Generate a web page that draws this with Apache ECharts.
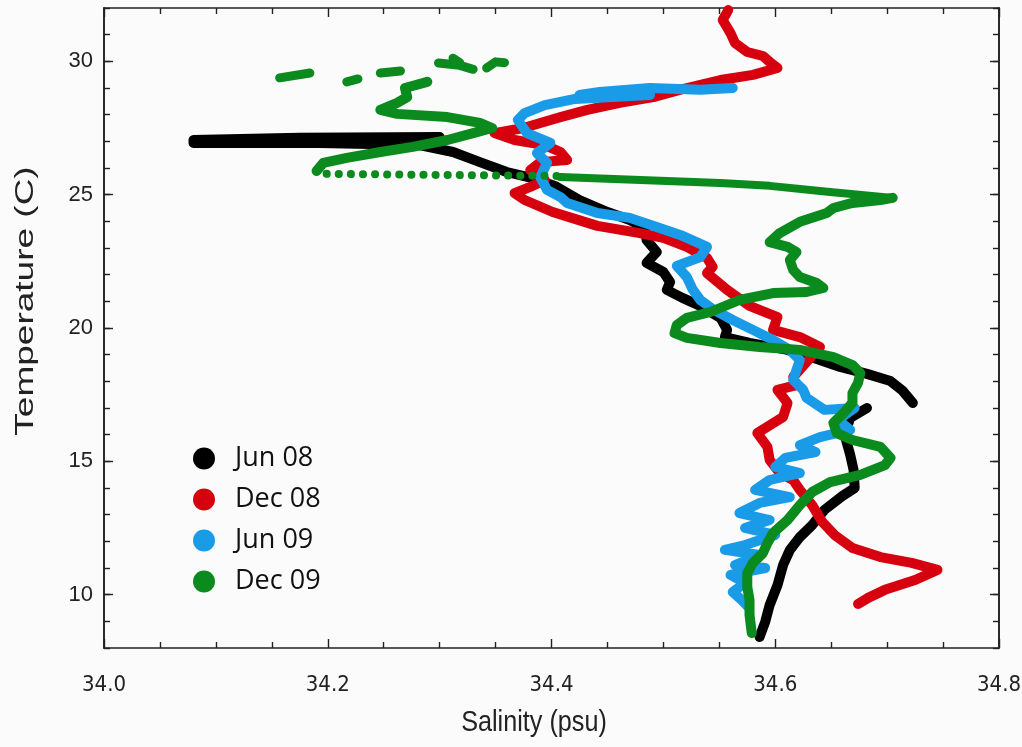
<!DOCTYPE html>
<html>
<head>
<meta charset="utf-8">
<script src="https://cdn.jsdelivr.net/npm/echarts@6/dist/echarts.min.js"></script>
<style>
html,body{margin:0;padding:0;background:#fbfbfb;}
#chart{width:1022px;height:747px;}
</style>
</head>
<body>
<div id="chart"></div>
<script>
// ---- data: [salinity (psu), temperature (C)] ----
var seriesNames = ['Jun 08', 'Dec 08', 'Jun 09', 'Dec 09'];
var seriesColors = ['#000000', '#d7000f', '#1a9be8', '#0b8a1e'];
var xTitle = 'Salinity (psu)';
var yTitle = 'Temperature (C)';

var jun08Upper = [
  [34.300,27.16],[34.175,27.13],[34.080,27.05],[34.080,26.94],[34.193,26.94],[34.282,26.86],
  [34.312,26.60],[34.336,26.22],[34.360,25.85],[34.383,25.62],[34.403,25.33],[34.425,24.80],
  [34.450,24.35],[34.470,24.05],[34.484,23.75],[34.485,23.30],[34.494,22.85],[34.485,22.44],
  [34.500,22.10],[34.506,21.72],[34.503,21.43],[34.517,21.13],[34.533,20.83],[34.551,20.38],
  [34.557,19.93],[34.555,19.66],[34.577,19.44],[34.611,19.18],[34.634,18.88],[34.658,18.54],
  [34.682,18.28],[34.703,18.01],[34.714,17.64],[34.723,17.19]
];
var jun08Lower = [
  [34.682,17.00],[34.667,16.63],[34.662,15.99],[34.667,15.24],[34.670,14.68],[34.671,14.00],
  [34.660,13.70],[34.644,13.18],[34.633,12.61],[34.622,12.16],[34.613,11.67],[34.607,11.11],
  [34.602,10.36],[34.595,9.61],[34.591,8.98],[34.586,8.41]
];

var dec08 = [
  [34.558,31.92],[34.553,31.55],[34.560,31.06],[34.564,30.69],[34.575,30.35],[34.589,30.20],
  [34.595,29.98],[34.602,29.75],[34.580,29.49],[34.551,29.30],[34.521,29.00],[34.491,28.66],
  [34.461,28.44],[34.432,28.18],[34.408,27.91],[34.390,27.69],[34.375,27.50],[34.349,27.31],
  [34.367,27.05],[34.394,26.86],[34.408,26.60],[34.414,26.30],[34.390,26.22],[34.381,25.92],
  [34.394,25.55],[34.381,25.29],[34.367,25.06],[34.376,24.80],[34.401,24.35],[34.441,23.83],
  [34.479,23.56],[34.500,23.38],[34.521,23.04],[34.539,22.63],[34.544,22.29],[34.539,22.06],
  [34.557,21.43],[34.577,20.83],[34.602,20.41],[34.598,19.93],[34.622,19.66],[34.640,19.29],
  [34.628,18.73],[34.616,18.16],[34.619,17.86],[34.602,17.68],[34.611,17.19],[34.607,16.66],
  [34.584,16.06],[34.593,15.54],[34.595,15.05],[34.604,14.56],[34.616,14.30],[34.622,13.93],
  [34.633,13.36],[34.642,12.73],[34.653,12.24],[34.669,11.75],[34.694,11.41],[34.722,11.19],
  [34.745,10.93],[34.725,10.55],[34.698,10.18],[34.683,9.88],[34.674,9.65]
];

var jun09 = [
  [34.562,29.00],[34.533,28.93],[34.488,29.00],[34.443,28.85],[34.425,28.74],[34.443,28.66],
  [34.488,28.74],[34.421,28.59],[34.394,28.36],[34.376,28.06],[34.370,27.80],[34.378,27.31],
  [34.399,26.94],[34.387,26.56],[34.396,26.19],[34.390,25.66],[34.396,25.18],[34.408,24.91],
  [34.414,24.69],[34.441,24.31],[34.470,24.13],[34.494,23.79],[34.515,23.49],[34.539,23.04],
  [34.533,22.66],[34.512,22.33],[34.521,21.91],[34.526,21.46],[34.533,21.05],[34.544,20.71],
  [34.562,20.30],[34.580,19.93],[34.598,19.55],[34.613,19.18],[34.622,18.80],[34.619,18.43],
  [34.616,18.05],[34.625,17.68],[34.628,17.38],[34.644,16.93],[34.671,17.00],[34.656,16.55],
  [34.667,16.18],[34.640,15.91],[34.622,15.61],[34.636,15.35],[34.609,15.13],[34.600,14.79],
  [34.622,14.56],[34.595,14.30],[34.582,13.93],[34.613,13.66],[34.586,13.44],[34.568,13.06],
  [34.595,12.80],[34.573,12.50],[34.600,12.24],[34.573,11.86],[34.555,11.68],[34.586,11.49],
  [34.564,11.11],[34.591,11.00],[34.560,10.74],[34.573,10.44],[34.562,10.10],[34.570,9.80],
  [34.576,9.54]
];

var dec09Bits = [
  [[34.157,29.38],[34.184,29.56]],
  [[34.217,29.23],[34.227,29.34]],
  [[34.247,29.56],[34.265,29.64]],
  [[34.299,29.94],[34.318,29.85],[34.330,29.70]],
  [[34.312,30.12],[34.318,29.95]],
  [[34.342,29.75],[34.350,29.98],[34.358,29.95]]
];
var dec09Upper = [
  [34.289,29.23],[34.269,29.00],[34.271,28.66],[34.262,28.44],[34.247,28.18],[34.262,28.03],
  [34.307,27.91],[34.336,27.69],[34.347,27.50],[34.330,27.31],[34.307,27.05],[34.276,26.79],
  [34.247,26.60],[34.217,26.38],[34.196,26.19],[34.190,25.89]
];
var dec09Dotted = [[34.199,25.78],[34.300,25.74],[34.408,25.70]];
var dec09Thin = [[34.408,25.66],[34.551,25.44],[34.595,25.33],[34.649,25.10],[34.705,24.88]];
var dec09Lower = [
  [34.705,24.88],[34.694,24.80],[34.669,24.69],[34.652,24.50],[34.646,24.31],[34.622,23.98],
  [34.604,23.56],[34.595,23.22],[34.611,23.04],[34.619,22.85],[34.613,22.55],[34.616,22.18],
  [34.622,21.91],[34.637,21.69],[34.643,21.50],[34.628,21.35],[34.598,21.31],[34.568,21.05],
  [34.542,20.60],[34.521,20.38],[34.512,20.11],[34.510,19.81],[34.521,19.63],[34.551,19.44],
  [34.586,19.29],[34.622,19.18],[34.652,18.91],[34.669,18.61],[34.676,18.31],[34.674,17.94],
  [34.669,17.56],[34.669,17.19],[34.661,16.81],[34.652,16.44],[34.655,16.06],[34.669,15.80],
  [34.694,15.54],[34.703,15.13],[34.698,14.86],[34.676,14.49],[34.649,14.22],[34.633,13.85],
  [34.622,13.36],[34.611,12.80],[34.598,12.31],[34.593,11.94],[34.589,11.56],[34.580,11.19],
  [34.575,10.81],[34.575,10.29],[34.577,9.80],[34.577,9.24],[34.579,8.56]
];

var yTicks = [10, 15, 20, 25, 30];

// ---- build ----
function seg(name, color, data, width, dotted) {
  return {
    type: 'line', name: name, data: data, showSymbol: false, symbol: 'circle',
    xAxisIndex: 0, yAxisIndex: 0, silent: true, animation: false,
    lineStyle: {
      color: color, width: width, cap: 'round', join: 'round',
      type: dotted ? [0.1, 12] : 'solid'
    },
    itemStyle: { color: color }
  };
}
var series = [];
series.push(seg(seriesNames[0], seriesColors[0], jun08Upper, 10));
series.push(seg(seriesNames[0], seriesColors[0], jun08Lower, 10));
series.push(seg(seriesNames[1], seriesColors[1], dec08, 10));
series.push(seg(seriesNames[2], seriesColors[2], jun09, 10));
dec09Bits.forEach(function (b) { series.push(seg(seriesNames[3], seriesColors[3], b, 9)); });
series.push(seg(seriesNames[3], seriesColors[3], dec09Upper, 10));
series.push(seg(seriesNames[3], seriesColors[3], dec09Dotted, 8, true));
series.push(seg(seriesNames[3], seriesColors[3], dec09Thin, 8));
series.push(seg(seriesNames[3], seriesColors[3], dec09Lower, 10));

var axisCol = '#222';
function yAx(pos, custom, len, labels) {
  var a = {
    type: 'value', position: pos, min: 8, max: 32, interval: 1,
    splitLine: { show: false },
    axisLine: { show: true, onZero: false, lineStyle: { color: axisCol, width: 1.6 } },
    axisTick: { show: true, inside: true, length: len, lineStyle: { color: axisCol, width: 1.4 } },
    axisLabel: { show: false }
  };
  if (custom) a.axisTick.customValues = yTicks;
  if (labels) {
    a.axisLabel = { show: true, customValues: yTicks, margin: 11, color: '#222',
      fontFamily: 'Liberation Sans, Arial, sans-serif', fontSize: 22 };
  }
  return a;
}
function xAx(pos, labels) {
  var a = {
    type: 'value', position: pos, min: 34, max: 34.8, interval: 0.2,
    splitLine: { show: false },
    axisLine: { show: true, onZero: false, lineStyle: { color: axisCol, width: 1.6 } },
    axisTick: { show: true, inside: true, length: 9, lineStyle: { color: axisCol, width: 1.4 } },
    minorTick: { show: true, splitNumber: 4, length: 6, lineStyle: { color: axisCol, width: 1.4 } },
    axisLabel: { show: false }
  };
  if (labels) {
    a.axisLabel = { show: true, margin: 26, color: '#222',
      fontFamily: 'Liberation Sans Narrow, DejaVu Sans Condensed, Arial, sans-serif', fontSize: 22,
      formatter: function (v) { return v.toFixed(1); } };
  }
  return a;
}

var chart = echarts.init(document.getElementById('chart'), null, { renderer: 'canvas' });
chart.setOption({
  backgroundColor: '#fbfbfb',
  animation: false,
  grid: { left: 104, right: 23, top: 8, bottom: 99, containLabel: false, outerBoundsMode: 'none' },
  xAxis: [xAx('bottom', true), xAx('top', false)],
  yAxis: [yAx('left', false, 6, true), yAx('left', true, 9, false), yAx('right', false, 6, false), yAx('right', true, 9, false)],
  legend: {
    data: seriesNames,
    orient: 'vertical', left: 193, top: 445, padding: 0,
    icon: 'circle', itemWidth: 22, itemHeight: 22, itemGap: 14, itemTextGap: 5,
    textStyle: { fontFamily: 'Open Sans, Noto Sans, sans-serif', fontSize: 27, lineHeight: 26,
      color: '#111', padding: [0, 0, 0, 15] },
    selectedMode: false
  },
  graphic: [
    { type: 'text', x: 534, y: 723, scaleX: 0.84, silent: true,
      style: { text: xTitle, font: '30px "Liberation Sans", Arial, sans-serif', fill: '#222',
        textAlign: 'center', textVerticalAlign: 'middle' } },
    { type: 'text', x: 26, y: 301, rotation: Math.PI / 2, scaleX: 1.48, silent: true,
      style: { text: yTitle, font: '25px "Liberation Sans", Arial, sans-serif', fill: '#222',
        textAlign: 'center', textVerticalAlign: 'middle' } }
  ],
  series: series
});
</script>
</body>
</html>
